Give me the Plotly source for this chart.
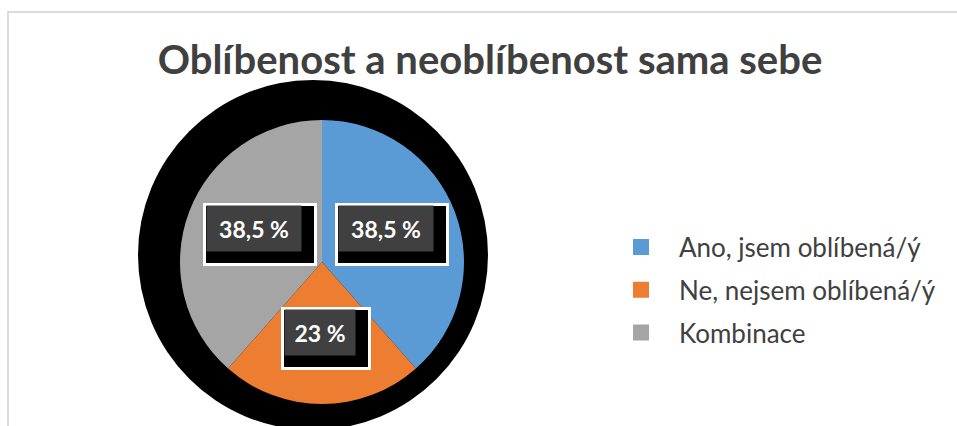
import math
import plotly.graph_objs as go

# data
labels = ["Ano, jsem oblíbená/ý", "Ne, nejsem oblíbená/ý", "Kombinace"]
values = [38.5, 23, 38.5]
value_text = ["38,5 %", "23 %", "38,5 %"]
colors = ["#5B9BD5", "#ED7D31", "#A5A5A5"]
title = "Oblíbenost a neoblíbenost sama sebe"

W, H = 957, 426
FONT = "Lato"

# pie placement (pixels)
cx, cy, rad = 322, 262, 142
dom_x = [(cx - rad) / W, (cx + rad) / W]
dom_y = [1 - (cy + rad) / H, 1 - (cy - rad) / H]

traces = [
    go.Pie(
        labels=labels,
        values=values,
        sort=False,
        direction="clockwise",
        rotation=0,
        marker=dict(colors=colors, line=dict(width=0)),
        textinfo="none",
        hoverinfo="label+percent",
        showlegend=False,
        domain=dict(x=dom_x, y=dom_y),
    )
]

# legend via dummy traces so the row spacing can be set
for i, (name, color) in enumerate(zip(labels, colors)):
    traces.append(
        go.Scatter(
            x=[None],
            y=[None],
            mode="markers",
            name=name,
            legendgroup=str(i),
            showlegend=True,
            marker=dict(size=16, symbol="square", color=color),
        )
    )

# data labels at slice middles, roughly half way out
annotations = []
total = sum(values)
start = 0
for v, txt in zip(values, value_text):
    mid = (start + v / 2) / total * 2 * math.pi
    start += v
    px = cx + 0.5 * rad * math.sin(mid) + 4
    py = cy - 0.54 * rad * math.cos(mid)
    w = 12 * len(txt) + 36
    annotations.append(
        dict(
            x=px / W, y=1 - py / H, xref="paper", yref="paper",
            xanchor="center", yanchor="middle",
            text="", showarrow=False,
            width=w, height=57,
            bgcolor="black", bordercolor="white", borderwidth=3, borderpad=0,
        )
    )
    annotations.append(
        dict(
            x=px / W, y=1 - py / H, xref="paper", yref="paper",
            xanchor="center", yanchor="middle",
            text="<b>%s</b>" % txt, showarrow=False,
            width=w - 16, height=43, xshift=-6, yshift=6,
            bgcolor="#404040",
            font=dict(family=FONT, size=23, color="white"),
        )
    )

shapes = [
    # the black shadow blob behind the pie
    dict(
        type="circle", xref="paper", yref="paper", layer="below",
        x0=138 / W, x1=488 / W, y0=1 - 430 / H, y1=1 - 80 / H,
        fillcolor="black", line=dict(width=0),
    ),
    # chart border
    dict(
        type="rect", xref="paper", yref="paper", layer="below",
        x0=8 / W, x1=1.02, y0=-0.02, y1=1 - 12 / H,
        line=dict(color="#D0D0D0", width=1.5), fillcolor="rgba(0,0,0,0)",
    ),
]

layout = go.Layout(
    width=W,
    height=H,
    margin=dict(l=0, r=0, t=0, b=0),
    paper_bgcolor="white",
    plot_bgcolor="rgba(0,0,0,0)",
    title=dict(
        text="<b>%s</b>" % title,
        x=490 / W, xanchor="center",
        y=1 - 60 / H, yanchor="middle",
        font=dict(family=FONT, size=40, color="#404040"),
    ),
    xaxis=dict(visible=False),
    yaxis=dict(visible=False),
    legend=dict(
        x=603 / W, xanchor="left",
        y=1 - 290 / H, yanchor="middle",
        font=dict(family=FONT, size=26, color="#404040"),
        tracegroupgap=6,
        itemwidth=66,
        bgcolor="rgba(0,0,0,0)",
    ),
    shapes=shapes,
    annotations=annotations,
)

fig = go.Figure(data=traces, layout=layout)
fig.write_html(
    "out.html",
    config={"displayModeBar": False},
    post_script="document.body.style.margin='0';",
)
